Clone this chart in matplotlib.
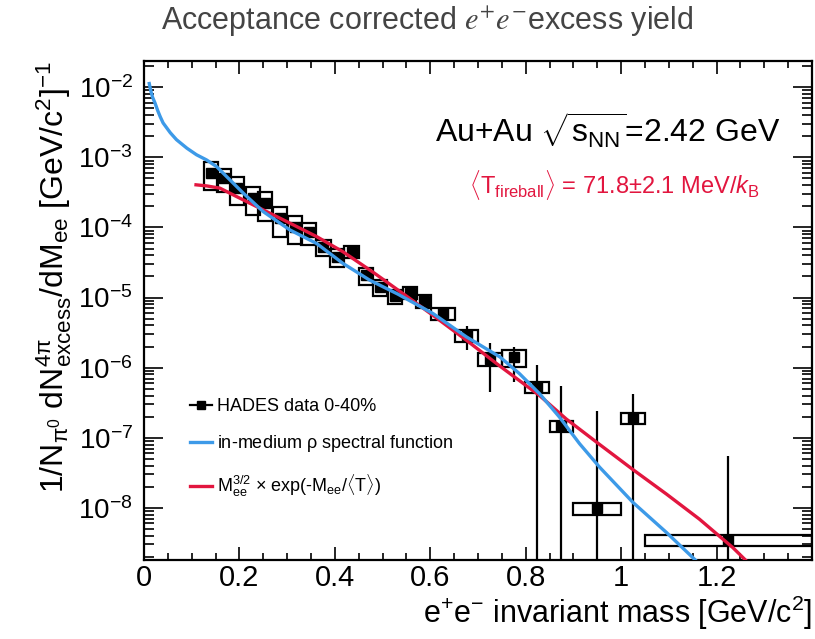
import numpy as np
import matplotlib
matplotlib.use('Agg')
import matplotlib.pyplot as plt
from matplotlib.lines import Line2D
from matplotlib.ticker import MultipleLocator, FixedLocator, LogLocator, NullFormatter, FuncFormatter

# HADES excess yield
mass = [0.140, 0.167, 0.195, 0.228, 0.254, 0.285, 0.316, 0.345, 0.376, 0.404, 0.435, 0.465, 0.494,
        0.526, 0.557, 0.586, 0.626, 0.676, 0.725, 0.776, 0.824, 0.875, 0.950, 1.025, 1.224]
yld = [5.96e-4, 5.06e-4, 3.63e-4, 2.62e-4, 2.22e-4, 1.35e-4, 1.03e-4, 8.7e-5, 5.3e-5, 3.8e-5, 4.5e-5,
       2.09e-5, 1.42e-5, 1.05e-5, 1.18e-5, 9.0e-6, 6.0e-6, 2.9e-6, 1.34e-6, 1.40e-6, 5.3e-7, 1.46e-7,
       9.8e-9, 1.9e-7, 3.46e-9]
stat_lo = [6e-5, 5e-5, 3.5e-5, 2.5e-5, 2.0e-5, 1.3e-5, 1.0e-5, 8e-6, 5e-6, 4e-6, 5e-6, 3e-6, 2e-6,
           1.5e-6, 1.5e-6, 1.2e-6, 1.0e-6, 1.1e-6, 0.89e-6, 0.78e-6, 5.3e-7, 1.46e-7, 9.8e-9, 1.9e-7, 3.46e-9]
stat_hi = [6e-5, 5e-5, 3.5e-5, 2.5e-5, 2.0e-5, 1.3e-5, 1.0e-5, 8e-6, 5e-6, 4e-6, 5e-6, 3e-6, 2e-6,
           1.5e-6, 1.5e-6, 1.2e-6, 1.0e-6, 1.0e-6, 0.91e-6, 0.57e-6, 5.5e-7, 4.1e-7, 2.27e-7, 2.35e-7, 5.2e-8]
sys_rel = [0.42, 0.37, 0.43, 0.43, 0.45, 0.45, 0.43, 0.35, 0.27, 0.29, 0.19, 0.27, 0.27, 0.24, 0.19,
           0.21, 0.19, 0.20, 0.22, 0.28, 0.19, 0.18, 0.19, 0.18, 0.18]
bin_half = [0.015] * 16 + [0.025] * 6 + [0.05, 0.025, 0.175]

# in-medium rho spectral function
rho_m = [0.011, 0.014, 0.018, 0.023, 0.029, 0.034, 0.040, 0.055, 0.068, 0.090, 0.110, 0.131, 0.152,
         0.208, 0.250, 0.306, 0.362, 0.417, 0.473, 0.532, 0.606, 0.676, 0.746, 0.787, 0.829, 0.871,
         0.913, 0.955, 1.025, 1.095, 1.157]
rho_y = [1.13e-2, 9.0e-3, 7.2e-3, 5.98e-3, 4.6e-3, 3.8e-3, 3.1e-3, 2.25e-3, 1.79e-3, 1.35e-3, 1.09e-3,
         9.2e-4, 7.4e-4, 3.09e-4, 1.68e-4, 9.2e-5, 5.9e-5, 3.07e-5, 1.77e-5, 1.12e-5, 5.9e-6, 2.74e-6,
         1.42e-6, 8.2e-7, 4.25e-7, 1.96e-7, 8.2e-8, 3.79e-8, 1.19e-8, 4.45e-9, 1.76e-9]

# M^{3/2} exp(-M/<T>) curve
fit_m = [0.109, 0.131, 0.159, 0.194, 0.250, 0.306, 0.362, 0.417, 0.480, 0.550, 0.610, 0.676, 0.746,
         0.829, 0.885, 0.955, 1.025, 1.095, 1.164, 1.234, 1.262]
fit_y = [4.06e-4, 3.92e-4, 3.64e-4, 2.76e-4, 1.78e-4, 1.15e-4, 7.4e-5, 4.5e-5, 2.3e-5, 1.05e-5, 5.3e-6,
         2.45e-6, 1.05e-6, 4.0e-7, 1.85e-7, 8.0e-8, 3.5e-8, 1.57e-8, 6.9e-9, 2.71e-9, 1.76e-9]

x_ticks = [0, 0.2, 0.4, 0.6, 0.8, 1.0, 1.2]
y_decades = [-8, -7, -6, -5, -4, -3, -2]

blue = '#3d9ae8'
red = '#e2163f'

plt.rcParams['font.family'] = ['Liberation Sans', 'DejaVu Sans']
plt.rcParams['mathtext.fontset'] = 'custom'
plt.rcParams['mathtext.rm'] = 'Liberation Sans'
plt.rcParams['mathtext.it'] = 'Liberation Sans:italic'
plt.rcParams['mathtext.bf'] = 'Liberation Sans:bold'
plt.rcParams['mathtext.sf'] = 'Liberation Sans'

fig = plt.figure(figsize=(8.15, 6.39), dpi=100)
ax = fig.add_axes([0.1767, 0.1236, 0.8196, 0.7815])
ax.set_yscale('log')

m = np.array(mass)
y = np.array(yld)
s = np.array(sys_rel)
# systematic boxes
ax.bar(m, 2 * s * y, bottom=y * (1 - s), width=2 * np.array(bin_half), fill=False,
       edgecolor='black', linewidth=1.6, zorder=2)
ax.errorbar(m, y, yerr=[stat_lo, stat_hi], fmt='s', color='black', ms=6.5,
            elinewidth=1.6, capsize=0, zorder=3)

l_red, = ax.plot(fit_m, fit_y, color=red, lw=2.4, zorder=4)
l_blue, = ax.plot(rho_m, rho_y, color=blue, lw=2.4, zorder=5)

ax.set_xlim(0, 1.4)
ax.set_ylim(1.8e-9, 2.4e-2)

ax.xaxis.set_major_locator(FixedLocator(x_ticks))
ax.xaxis.set_minor_locator(MultipleLocator(0.05))
ax.xaxis.set_major_formatter(FuncFormatter(lambda v, p: '%g' % round(v, 2)))
ax.yaxis.set_major_locator(FixedLocator([10.0 ** d for d in y_decades]))
ax.yaxis.set_minor_locator(LogLocator(base=10, subs=np.arange(2, 10), numticks=20))
ax.yaxis.set_minor_formatter(NullFormatter())
ax.yaxis.set_major_formatter(FuncFormatter(lambda v, p: r'$10^{%d}$' % round(np.log10(v))))

ax.tick_params(axis='both', which='both', direction='in', top=True, right=True, width=1.2)
ax.tick_params(axis='x', which='major', length=9.5, labelsize=21, pad=3)
ax.tick_params(axis='x', which='minor', length=5)
ax.tick_params(axis='y', which='major', length=14, labelsize=20, pad=8)
ax.tick_params(axis='y', which='minor', length=7)
for sp in ax.spines.values():
    sp.set_linewidth(1.6)

ax.set_xlabel(r'e$^{+}$e$^{-}$ invariant mass [GeV/c$^{2}$]', fontsize=22, loc='right')
ax.xaxis.set_label_coords(1.0, -0.067)
ax.set_ylabel(r'1/N$_{\mathrm{\pi}^{0}}$ dN$^{4\mathrm{\pi}}_{\mathrm{excess}}$/dM$_{\mathrm{ee}}$ [GeV/c$^{2}$]$^{-1}$',
              fontsize=23, loc='top')
ax.yaxis.set_label_coords(-0.105, 1.0)

ax.text(0.952, 0.861, r'Au+Au $\sqrt{\mathrm{s}_{\mathrm{NN}}}$=2.42 GeV', transform=ax.transAxes,
        fontsize=23, ha='right', va='center')
ax.text(0.922, 0.751, r'$\langle$T$_{\mathrm{fireball}}\rangle$ = 71.8$\pm$2.1 MeV/$k_{\mathrm{B}}$',
        transform=ax.transAxes, fontsize=17, ha='right', va='center', color=red)

hades = Line2D([], [], color='black', marker='s', lw=1.6, ms=6)
ax.legend([hades, l_blue, l_red],
          ['HADES data 0-40%', r'in-medium $\mathrm{\rho}$ spectral function',
           r'M$_{\mathrm{ee}}^{3/2}$ $\times$ exp(-M$_{\mathrm{ee}}$/$\langle$T$\rangle$)'],
          loc='upper left', bbox_to_anchor=(0.069, 0.324), frameon=False, fontsize=13,
          handlelength=1.2, handletextpad=0.3, labelspacing=1.0, borderpad=0, borderaxespad=0)

fig.text(0.524, 0.966, r'Acceptance corrected $e^{+}e^{-}$excess yield', fontsize=22,
         ha='center', va='center', color='#444444', math_fontfamily='stix')

fig.savefig('out.png', dpi=100)
